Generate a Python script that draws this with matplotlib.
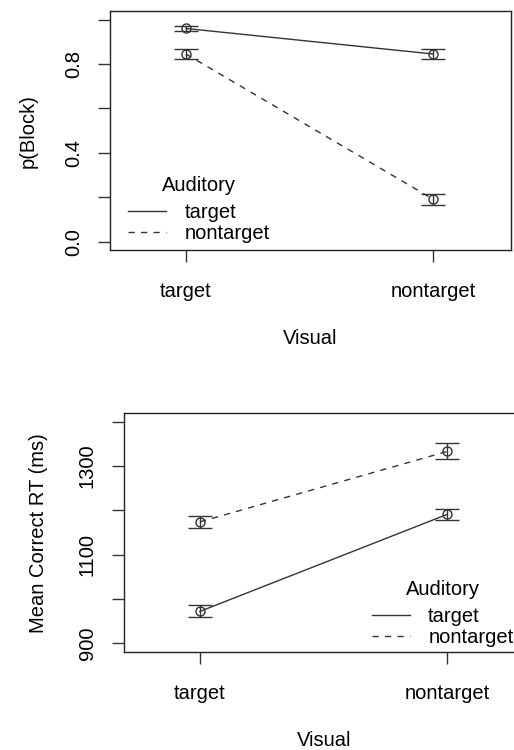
import matplotlib
matplotlib.use("Agg")
import matplotlib.pyplot as plt
from matplotlib.lines import Line2D

plt.rcParams['font.family'] = ['Liberation Sans', 'DejaVu Sans']

# ---- data ----
visual = ["target", "nontarget"]
auditory = ["target", "nontarget"]

pblock_target = [0.960, 0.845]
pblock_target_se = [0.012, 0.022]
pblock_nontarget = [0.845, 0.191]
pblock_nontarget_se = [0.022, 0.024]

rt_target = [972, 1191]
rt_target_se = [13.5, 12.5]
rt_nontarget = [1174, 1333]
rt_nontarget_se = [13.5, 18.0]

top_yticks = [0.0, 0.2, 0.4, 0.6, 0.8, 1.0]
top_yticklabels = ["0.0", "", "0.4", "", "0.8", ""]
bot_yticks = [900, 1000, 1100, 1200, 1300, 1400]
bot_yticklabels = ["900", "", "1100", "", "1300", ""]

FS = 14.5
LC = '#333333'
LW = 1.0
DASH = (0, (4.5, 4.5))

fig = plt.figure(figsize=(5.14, 7.5), dpi=100)

def panel(rect, s1, e1, s2, e2, yticks, yticklabels, ylim, ylabel, ylabx, leg_anchor):
    ax = fig.add_axes(rect)
    x = [1, 2]
    ax.errorbar(x, s1, yerr=e1, color=LC, lw=LW, ls='-', marker='o', ms=6.5,
                mfc='none', mec=LC, mew=LW, capsize=8.3, capthick=LW, elinewidth=LW)
    h2 = ax.errorbar(x, s2, yerr=e2, color=LC, lw=LW, ls='-', marker='o', ms=6.5,
                     mfc='none', mec=LC, mew=LW, capsize=8.3, capthick=LW, elinewidth=LW)
    h2[0].set_linestyle(DASH)
    ax.set_xlim(0.693, 2.314)
    ax.set_ylim(*ylim)
    ax.set_xticks(x)
    ax.set_xticklabels(visual, fontsize=FS)
    ax.set_yticks(yticks)
    ax.set_yticklabels(yticklabels, fontsize=FS, rotation=90, va='center')
    ax.tick_params(axis='both', direction='out', length=8.6, width=LW, color=LC)
    ax.tick_params(axis='x', pad=14.5)
    ax.tick_params(axis='y', pad=11)
    for sp in ax.spines.values():
        sp.set_color('#222222')
        sp.set_linewidth(1.0)
    ax.set_xlabel("Visual", fontsize=FS, va='center')
    ax.xaxis.set_label_coords(0.499, -0.369)
    ax.set_ylabel(ylabel, fontsize=FS, va='center')
    ax.yaxis.set_label_coords(ylabx, 0.495)
    hl1 = Line2D([], [], color=LC, lw=LW, ls='-')
    hl2 = Line2D([], [], color=LC, lw=LW, ls=DASH)
    leg = ax.legend([hl1, hl2], auditory, title="Auditory", frameon=False,
                    fontsize=FS, title_fontsize=FS, loc='upper left',
                    bbox_to_anchor=leg_anchor, borderpad=0, borderaxespad=0,
                    handlelength=1.9, handletextpad=0.9, labelspacing=0.08)
    leg._legend_box.sep = 6.0
    return ax

panel([110/514, 1 - 250/750, 401/514, 239.3/750],
      pblock_target, pblock_target_se, pblock_nontarget, pblock_nontarget_se,
      top_yticks, top_yticklabels, (-0.037, 1.04), "p(Block)", -0.2045, (0.045, 0.309))

panel([124/514, 1 - 652/750, 401/514, 239.3/750],
      rt_target, rt_target_se, rt_nontarget, rt_nontarget_se,
      bot_yticks, bot_yticklabels, (880.4, 1420.3), "Mean Correct RT (ms)", -0.2137, (0.618, 0.301))

fig.savefig("out.png", dpi=100)
